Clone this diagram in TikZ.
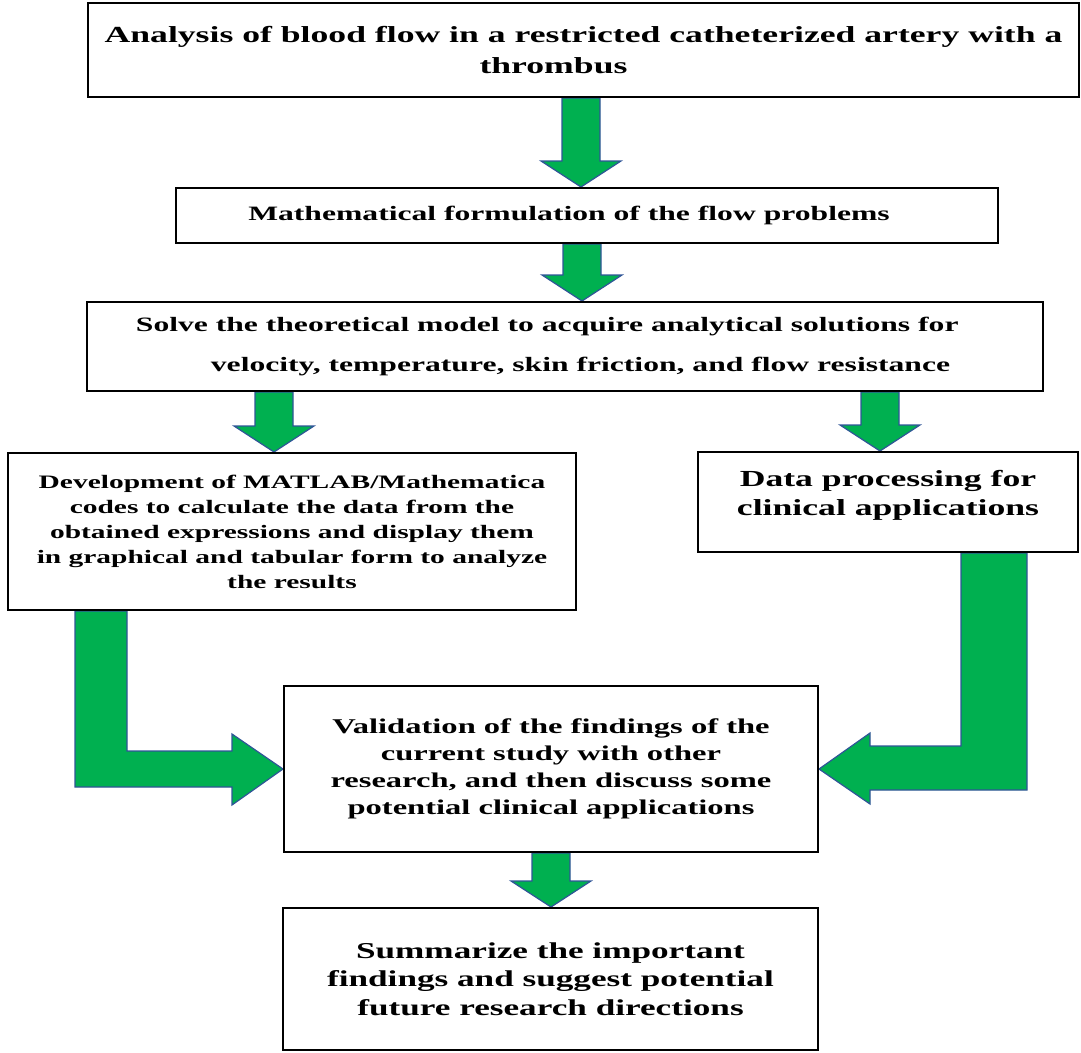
\documentclass[tikz,border=0pt]{standalone}
\usepackage{fontspec}
\setmainfont{Liberation Serif}[FakeStretch=1.55]
\usepackage{tikz}
\usetikzlibrary{calc,backgrounds}

\definecolor{arrowgreen}{HTML}{00B050}
\definecolor{arrowedge}{HTML}{2F5597}

\newcommand{\blockdown}[3]{%
	\draw[fatarrow] let \p1=(#1.south), \p2=(#2.north) in
	({#3pt-19pt},\y1) -- ({#3pt-19pt},{\y2+26pt}) -- ({#3pt-40pt},{\y2+26pt})
	-- (#3pt,\y2) -- ({#3pt+40pt},{\y2+26pt}) -- ({#3pt+19pt},{\y2+26pt})
	-- ({#3pt+19pt},\y1) -- cycle;}

\begin{document}
\begin{tikzpicture}[x=1pt, y=-1pt,
	box/.style = {draw, line width=2pt, align=center, inner sep=0pt},
	fatarrow/.style = {fill=arrowgreen, draw=arrowedge, line width=1.2pt, line join=miter}
	]
	\useasboundingbox (0,0) rectangle (1081,1052);
	
	\node (ana) [box, minimum width=991pt, minimum height=94pt, font=\bfseries\fontsize{23}{31}\selectfont] at (583.5,50)
	{Analysis of blood flow in a restricted catheterized artery with a\\thrombus\hspace*{60pt}};
	\node (form) [box, minimum width=822pt, minimum height=55pt, font=\bfseries\fontsize{20.4}{25}\selectfont] at (587,215.5)
	{Mathematical formulation of the flow problems\hspace*{36pt}};
	\node (solve) [box, align=left, minimum width=956pt, minimum height=89pt, font=\bfseries\fontsize{20.4}{40}\selectfont] at (565,346.5)
	{Solve the theoretical model to acquire analytical solutions for\\\hspace*{75pt}velocity, temperature, skin friction, and flow resistance\hspace*{44pt}};
	
	\node (code) [box, minimum width=568pt, minimum height=157pt, font=\bfseries\fontsize{19}{25}\selectfont] at (292,531.5)
	{Development of MATLAB/Mathematica\\codes to calculate the data from the\\obtained expressions and display them\\in graphical and tabular form to analyze\\the results};
	\node (data) [box, minimum width=380pt, minimum height=100pt, text depth=19pt, font=\bfseries\fontsize{23}{29}\selectfont] at (888,502)
	{Data processing for\\clinical applications};
	
	\node (valid) [box, minimum width=534pt, minimum height=166pt, font=\bfseries\fontsize{21}{27}\selectfont] at (551,769)
	{Validation of the findings of the\\current study with other\\research, and then discuss some\\potential clinical applications};
	\node (summ) [box, minimum width=535pt, minimum height=142pt, font=\bfseries\fontsize{22.7}{28.5}\selectfont] at (550.5,979)
	{Summarize the important\\findings and suggest potential\\future research directions};
	
	\begin{scope}[on background layer]
	\blockdown{ana}{form}{581}
	\blockdown{form}{solve}{582}
	\blockdown{solve}{code}{274}
	\blockdown{solve}{data}{880}
	\blockdown{valid}{summ}{551}
	
	\draw[fatarrow] let \p1=(code.south), \p2=(valid.west) in
	(75pt,\y1) -- (127pt,\y1) -- (127pt,{\y2+18pt}) -- ({\x2-51pt},{\y2+18pt})
	-- ({\x2-51pt},{\y2+35pt}) -- (\p2) -- ({\x2-51pt},{\y2-36pt})
	-- ({\x2-51pt},{\y2-18pt}) -- (75pt,{\y2-18pt}) -- cycle;
	\draw[fatarrow] let \p1=(data.south), \p2=(valid.east) in
	(961pt,\y1) -- (1027pt,\y1) -- (1027pt,{\y2-21pt}) -- ({\x2+51pt},{\y2-21pt})
	-- ({\x2+51pt},{\y2-35pt}) -- (\p2) -- ({\x2+51pt},{\y2+36pt})
	-- ({\x2+51pt},{\y2+23pt}) -- (961pt,{\y2+23pt}) -- cycle;
	\end{scope}
\end{tikzpicture}
\end{document}
